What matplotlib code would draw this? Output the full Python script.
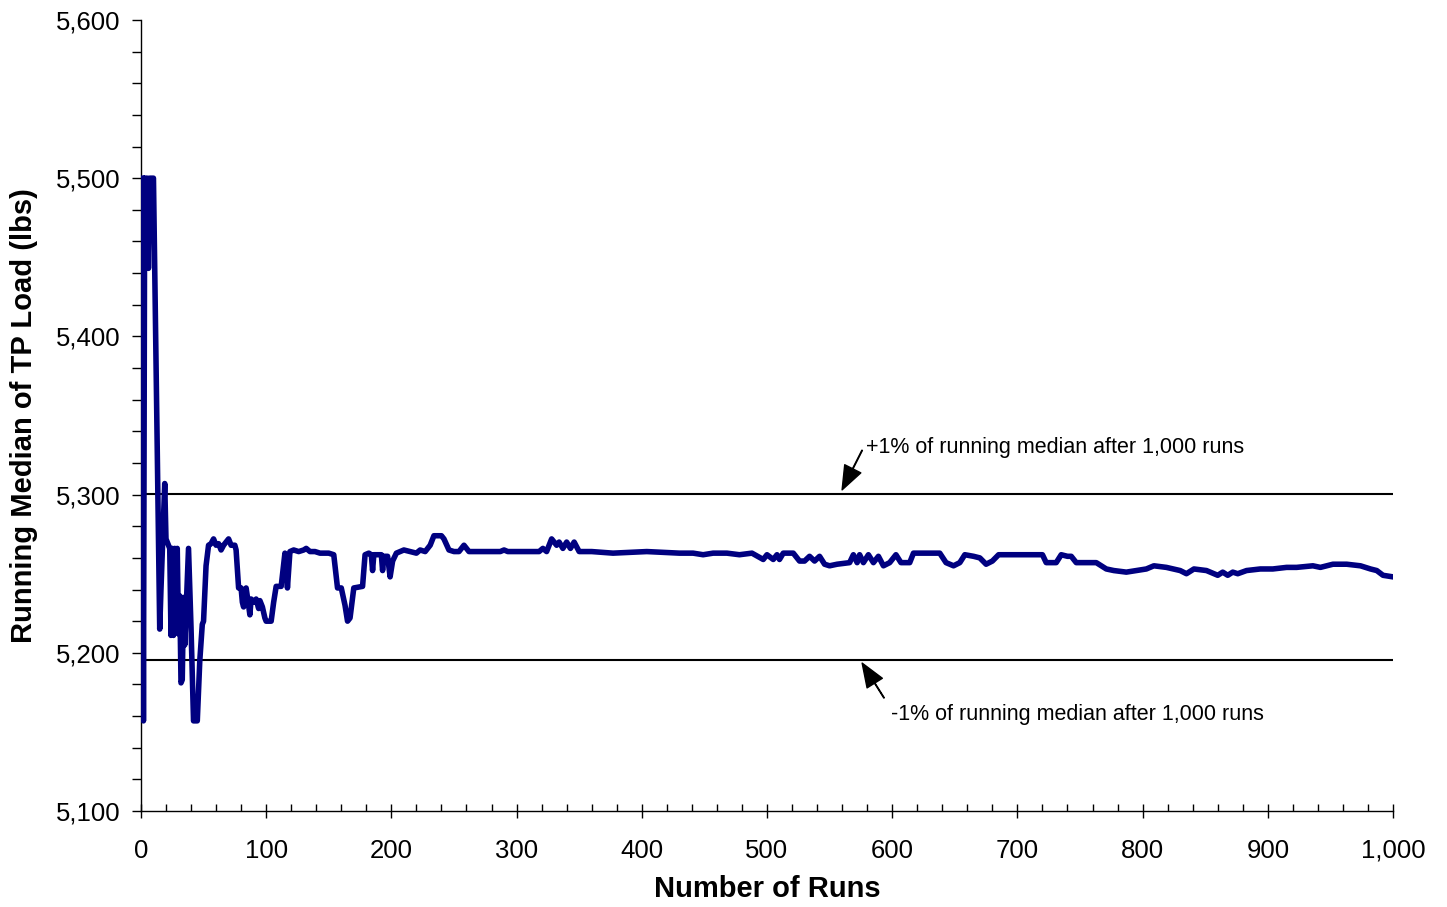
import numpy as np
import matplotlib
matplotlib.use('Agg')
import matplotlib.pyplot as plt
from matplotlib.ticker import MultipleLocator, FuncFormatter

# running median (run number, load in lbs)
runs = [1, 2, 3, 5, 6, 7, 10, 12, 13, 15, 16, 19, 20, 22, 23, 24, 25, 26, 27, 28,
        29, 30, 31, 32, 33, 34, 35, 36, 38, 40, 42, 45, 47, 49, 50, 52, 54, 56, 58, 60,
        62, 64, 66, 68, 70, 72, 75, 76, 78, 80, 81, 82, 84, 86, 87, 88, 90, 92, 94, 95,
        97, 99, 100, 104, 106, 108, 112, 115, 116, 117, 119, 122, 126, 130, 132, 135, 139, 143, 150, 154,
        157, 160, 163, 165, 167, 170, 177, 179, 182, 184, 185, 186, 192, 193, 194, 197, 199, 201, 204, 210,
        215, 220, 223, 227, 231, 234, 240, 242, 246, 250, 254, 258, 262, 270, 280, 287, 290, 293, 318, 321,
        324, 328, 332, 334, 337, 340, 343, 346, 350, 360, 377, 404, 430, 441, 449, 457, 468, 478, 488, 497,
        500, 505, 508, 510, 513, 521, 526, 530, 534, 538, 542, 546, 550, 556, 566, 569, 572, 574, 577, 581,
        585, 589, 593, 598, 603, 607, 614, 617, 638, 643, 649, 654, 658, 665, 670, 675, 680, 685, 720, 723,
        731, 735, 740, 743, 747, 755, 763, 771, 777, 787, 795, 803, 809, 819, 830, 835, 841, 851, 860, 864,
        868, 872, 876, 883, 894, 904, 915, 923, 936, 942, 952, 963, 974, 982, 987, 992, 1000]
median_load = [5500, 5157, 5500, 5500, 5443, 5500, 5500, 5388, 5330, 5215, 5240, 5307, 5272, 5268, 5266, 5211, 5266, 5211, 5266, 5213,
               5266, 5212, 5236, 5181, 5183, 5235, 5205, 5225, 5266, 5216, 5157, 5157, 5195, 5218, 5220, 5255, 5268, 5269, 5272, 5268,
               5269, 5265, 5268, 5270, 5272, 5268, 5268, 5265, 5241, 5241, 5232, 5229, 5241, 5230, 5224, 5234, 5232, 5234, 5228, 5233,
               5229, 5222, 5220, 5220, 5232, 5242, 5242, 5263, 5260, 5241, 5264, 5265, 5264, 5265, 5266, 5264, 5264, 5263, 5263, 5262,
               5241, 5241, 5230, 5220, 5222, 5241, 5242, 5262, 5263, 5262, 5252, 5262, 5262, 5252, 5261, 5261, 5248, 5258, 5263, 5265,
               5264, 5263, 5265, 5264, 5268, 5274, 5274, 5272, 5265, 5264, 5264, 5268, 5264, 5264, 5264, 5264, 5265, 5264, 5264, 5266,
               5264, 5272, 5268, 5270, 5266, 5270, 5266, 5270, 5264, 5264, 5263, 5264, 5263, 5263, 5262, 5263, 5263, 5262, 5263, 5259,
               5262, 5259, 5262, 5259, 5263, 5263, 5258, 5258, 5261, 5258, 5261, 5256, 5255, 5256, 5257, 5262, 5257, 5262, 5257, 5262,
               5257, 5261, 5255, 5257, 5262, 5257, 5257, 5263, 5263, 5257, 5255, 5257, 5262, 5261, 5260, 5256, 5258, 5262, 5262, 5257,
               5257, 5262, 5261, 5261, 5257, 5257, 5257, 5253, 5252, 5251, 5252, 5253, 5255, 5254, 5252, 5250, 5253, 5252, 5249, 5251,
               5249, 5251, 5250, 5252, 5253, 5253, 5254, 5254, 5255, 5254, 5256, 5256, 5255, 5253, 5252, 5249, 5248]

final_median = 5248  # running median after 1,000 runs
upper_band = final_median * 1.01
lower_band = final_median * 0.99

plt.rcParams['font.family'] = ['Liberation Sans', 'DejaVu Sans']

fig = plt.figure(figsize=(14.47, 9.07), dpi=100)
ax = fig.add_axes([0.0974, 0.1058, 0.8653, 0.8722])

ax.plot(runs, median_load, color='#000080', lw=4.0, solid_joinstyle='round', zorder=3)
ax.axhline(upper_band, color='black', lw=1.5, zorder=2)
ax.axhline(lower_band, color='black', lw=1.5, zorder=2)

ax.set_xlim(0, 1000)
ax.set_ylim(5100, 5600)

#axis cosmetics
for s in ['top', 'right']:
    ax.spines[s].set_visible(False)
for s in ['left', 'bottom']:
    ax.spines[s].set_linewidth(1.0)

ax.xaxis.set_major_locator(MultipleLocator(100))
ax.xaxis.set_minor_locator(MultipleLocator(20))
ax.yaxis.set_major_locator(MultipleLocator(100))
ax.yaxis.set_minor_locator(MultipleLocator(20))
comma = FuncFormatter(lambda v, p: '{:,.0f}'.format(v))
ax.xaxis.set_major_formatter(comma)
ax.yaxis.set_major_formatter(comma)

ax.tick_params(axis='x', which='major', direction='inout', length=10, width=1, labelsize=18.5, pad=15)
ax.tick_params(axis='x', which='minor', direction='in', length=5, width=1)
ax.tick_params(axis='y', which='major', direction='out', length=6.5, width=1, labelsize=18.5, pad=8)
ax.tick_params(axis='y', which='minor', direction='out', length=6.5, width=1)

ax.set_xlabel('Number of Runs', fontsize=21, fontweight='bold', labelpad=9)
ax.set_ylabel('Running Median of TP Load (lbs)', fontsize=21, fontweight='bold', labelpad=13)

#band annotations
arrow = dict(facecolor='black', edgecolor='black', width=0.4, headwidth=13, headlength=17, shrink=0)
ax.annotate('', xy=(560, 5303), xytext=(576, 5328), arrowprops=arrow)
ax.text(579, 5330, '+1% of running median after 1,000 runs', fontsize=15.5, va='center', ha='left')
ax.annotate('', xy=(576, 5193.5), xytext=(593.5, 5171.5), arrowprops=arrow)
ax.text(599, 5161, '-1% of running median after 1,000 runs', fontsize=15.5, va='center', ha='left')

fig.savefig('out.png', dpi=100)
